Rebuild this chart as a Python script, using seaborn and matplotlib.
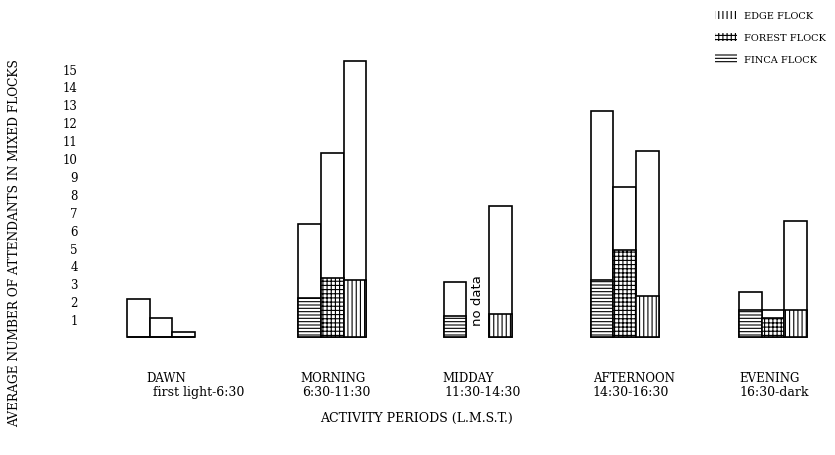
import numpy as np
import pandas as pd
import matplotlib
matplotlib.use("Agg")
import matplotlib.pyplot as plt
import matplotlib.transforms as mtransforms
from matplotlib.patches import Patch
import seaborn as sns

# ── data ────────────────────────────────────────────────────────────────────
periods = ["DAWN", "MORNING", "MIDDAY", "AFTERNOON", "EVENING"]
period_times = ["first light-6:30", "6:30-11:30", "11:30-14:30",
                "14:30-16:30", "16:30-dark"]
flocks = ["FINCA FLOCK", "FOREST FLOCK", "EDGE FLOCK"]

# full bar heights (all attendants)
finca_total  = [2.1, 6.3, 3.1, 12.6, 2.5]
forest_total = [1.05, 10.3, np.nan, 8.4, 1.5]
edge_total   = [0.3, 15.4, 7.3, 10.4, 6.5]

# hatched lower part of each bar
finca_part  = [0, 2.2, 1.2, 3.2, 1.5]
forest_part = [0, 3.3, np.nan, 4.85, 1.05]
edge_part   = [0, 3.2, 1.3, 2.3, 1.5]

y_ticks = list(range(1, 16))

# ── layout ──────────────────────────────────────────────────────────────────
W_PX, H_PX = 835, 456
GROUP_X = [0, 1.12, 2.07, 3.03, 4.0]      # uneven group spacing of the original
PX_UNIT = 153.0                            # pixels per group unit
X0_PX   = 161.0                            # pixel of group 0
GROUP_W = 68 / PX_UNIT
HATCH = {"FINCA FLOCK": "-----", "FOREST FLOCK": "++++", "EDGE FLOCK": "||||"}

rows = []
for i, p in enumerate(periods):
    for f, tot, part in zip(flocks,
                            [finca_total, forest_total, edge_total],
                            [finca_part, forest_part, edge_part]):
        rows.append(dict(period=p, x=GROUP_X[i], flock=f,
                         total=tot[i], part=part[i]))
df = pd.DataFrame(rows).dropna()

sns.set_style("white")
plt.rcParams["font.family"] = ["DejaVu Serif"]
plt.rcParams["text.color"] = "black"
plt.rcParams["ytick.color"] = "black"
plt.rcParams["hatch.linewidth"] = 0.8

fig = plt.figure(figsize=(W_PX / 100, H_PX / 100), dpi=100)
left_px, right_px, base_px, top_px = 100, 830, 338, 50
ax = fig.add_axes([left_px / W_PX, 1 - base_px / H_PX,
                   (right_px - left_px) / W_PX, (base_px - top_px) / H_PX])

width = GROUP_W / np.min(np.diff(GROUP_X))
common = dict(x="x", hue="flock", hue_order=flocks, native_scale=True,
              width=width, palette={f: "white" for f in flocks},
              edgecolor="black", linewidth=1.2, errorbar=None,
              legend=False, saturation=1, gap=0, ax=ax)
sns.barplot(data=df, y="total", **common)
sns.barplot(data=df, y="part", **common)

for cont, f in zip(ax.containers[3:], flocks):
    for bar in cont:
        bar.set_hatch(HATCH[f])
for bar in ax.patches:
    bar.set_clip_on(False)

ax.set_xlim((left_px - X0_PX) / PX_UNIT, (right_px - X0_PX) / PX_UNIT)
ax.set_ylim(0, 16.09)
ax.set_yticks(y_ticks)
ax.set_yticklabels([str(t) for t in y_ticks], fontsize=8.5, color="black")
ax.tick_params(axis="y", length=0, pad=16)
ax.set_xticks([])
ax.set_xlabel("")
ax.set_ylabel("")
for s in ax.spines.values():
    s.set_visible(False)

# "no data" where the forest flock bar is missing at midday
ax.text(GROUP_X[2], 2.1, "no data", rotation=90, ha="center", va="center",
        fontsize=9.5, family=["DejaVu Sans"])

# period labels under each group
trans = mtransforms.blended_transform_factory(ax.transData, fig.transFigure)
label_dx = [-15, -32, -35, -32, -34]
time_dx  = [-8, -30, -33, -32, -34]
for i in range(len(periods)):
    ax.text(GROUP_X[i] + label_dx[i] / PX_UNIT, 1 - 379 / H_PX, periods[i],
            transform=trans, ha="left", va="center", fontsize=8.5)
    ax.text(GROUP_X[i] + time_dx[i] / PX_UNIT, 1 - 393 / H_PX, period_times[i],
            transform=trans, ha="left", va="center", fontsize=9)

fig.text(15 / W_PX, 1 - 243 / H_PX,
         "AVERAGE NUMBER OF ATTENDANTS IN MIXED FLOCKS",
         rotation=90, ha="center", va="center", fontsize=8.8)
fig.text(416 / W_PX, 1 - 418 / H_PX, "ACTIVITY PERIODS (L.M.S.T.)",
         ha="center", va="center", fontsize=9)

handles = [Patch(facecolor="white", edgecolor="black", linewidth=0,
                 hatch=HATCH[f], label=f) for f in flocks[::-1]]
fig.legend(handles=handles, loc="upper left",
           bbox_to_anchor=(706 / W_PX, 1 - 3 / H_PX), frameon=False,
           fontsize=7, handlelength=2.3, handleheight=1.0,
           labelspacing=1.25, handletextpad=0.7)

fig.savefig("out.png", dpi=100)
